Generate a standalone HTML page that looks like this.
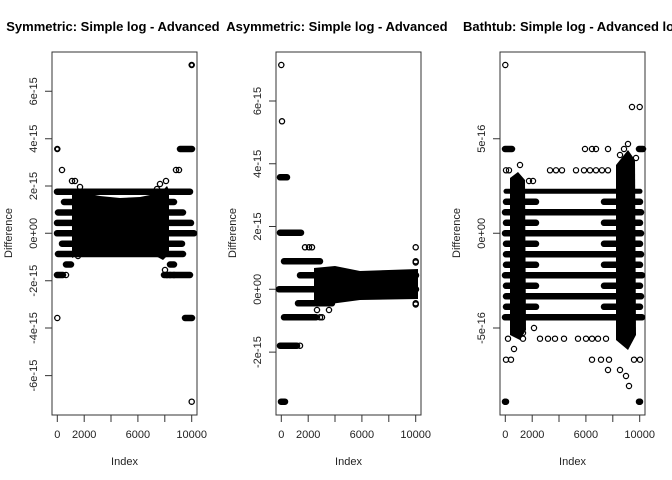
<!DOCTYPE html>
<html><head><meta charset="utf-8"><style>
html,body{margin:0;padding:0;background:#fff;}
svg{display:block;font-family:"Liberation Sans",sans-serif;}
</style></head><body>
<svg width="672" height="480" viewBox="0 0 672 480" xmlns="http://www.w3.org/2000/svg">
<defs>
<clipPath id="c1"><rect x="0" y="0" width="224" height="480"/></clipPath>
<clipPath id="c2"><rect x="224" y="0" width="224" height="480"/></clipPath>
<clipPath id="c3"><rect x="448" y="0" width="224" height="480"/></clipPath>
</defs>
<g font-weight="bold" font-size="13" text-anchor="middle">
<text x="124.5" y="31" clip-path="url(#c1)">Symmetric: Simple log - Advanced log</text>
<text x="348.5" y="31" clip-path="url(#c2)">Asymmetric: Simple log - Advanced log</text>
<text x="572.5" y="31" clip-path="url(#c3)">Bathtub: Simple log - Advanced log</text>
</g>
<g font-size="11" fill="#222" text-anchor="middle">
<text x="124.5" y="465">Index</text><text x="348.5" y="465">Index</text><text x="572.5" y="465">Index</text>
<text transform="translate(12,233) rotate(-90)">Difference</text>
<text transform="translate(236,233) rotate(-90)">Difference</text>
<text transform="translate(460,233) rotate(-90)">Difference</text>
</g>
<g fill="none" stroke="#333" stroke-width="1">
<rect x="52" y="52" width="145" height="363"/>
<rect x="276" y="52" width="145" height="363"/>
<rect x="500" y="52" width="145" height="363"/>
</g>
<g stroke="#333" stroke-width="1">
<path d="M57.3 415v7M84.2 415v7M111 415v7M137.9 415v7M164.8 415v7M191.7 415v7M57.3 415H191.7"/>
<path d="M281.3 415v7M308.2 415v7M335 415v7M361.9 415v7M388.8 415v7M415.7 415v7M281.3 415H415.7"/>
<path d="M505.3 415v7M532.2 415v7M559 415v7M585.9 415v7M612.8 415v7M639.7 415v7M505.3 415H639.7"/>
<path d="M52 91.3h-7M52 138.7h-7M52 186h-7M52 233.3h-7M52 280.7h-7M52 328h-7M52 375.6h-7M52 91.3V375.6"/>
<path d="M276 101h-7M276 163.8h-7M276 226.5h-7M276 289.3h-7M276 352.1h-7M276 101V352.1"/>
<path d="M500 138.7h-7M500 233.3h-7M500 328h-7M500 138.7V328"/>
</g>
<g font-size="11" fill="#222" text-anchor="middle">
<text x="57.3" y="438">0</text><text x="84.2" y="438">2000</text><text x="137.9" y="438">6000</text><text x="191.7" y="438">10000</text>
<text x="281.3" y="438">0</text><text x="308.2" y="438">2000</text><text x="361.9" y="438">6000</text><text x="415.7" y="438">10000</text>
<text x="505.3" y="438">0</text><text x="532.2" y="438">2000</text><text x="585.9" y="438">6000</text><text x="639.7" y="438">10000</text>
<text transform="translate(37,91.3) rotate(-90)">6e-15</text>
<text transform="translate(37,138.7) rotate(-90)">4e-15</text>
<text transform="translate(37,186) rotate(-90)">2e-15</text>
<text transform="translate(37,233.3) rotate(-90)">0e+00</text>
<text transform="translate(37,280.7) rotate(-90)">-2e-15</text>
<text transform="translate(37,328) rotate(-90)">-4e-15</text>
<text transform="translate(37,375.6) rotate(-90)">-6e-15</text>
<text transform="translate(261,101) rotate(-90)">6e-15</text>
<text transform="translate(261,163.8) rotate(-90)">4e-15</text>
<text transform="translate(261,226.5) rotate(-90)">2e-15</text>
<text transform="translate(261,289.3) rotate(-90)">0e+00</text>
<text transform="translate(261,352.1) rotate(-90)">-2e-15</text>
<text transform="translate(485,138.7) rotate(-90)">5e-16</text>
<text transform="translate(485,233.3) rotate(-90)">0e+00</text>
<text transform="translate(485,328) rotate(-90)">-5e-16</text>
</g>
<g stroke="#000" stroke-linecap="round" stroke-width="6.5" fill="none">
<path d="M57 233.3H194M57 222.9H191M58 212.5H183M64 202H174M57 191.7H190M62 243.7H182M58 254H183M57 275H62M164 275H190M66 264.5H71M170 264.5H174"/>
</g>
<polygon points="72,195 80,192 100,196 120,198 140,197 160,193 167,186 169,190 169,254 163,260 150,253 120,252 100,252 80,254 72,258" fill="#000"/>
<g stroke="#000" stroke-width="1.3" fill="none">
<circle cx="57.3" cy="149" r="2.6"/><circle cx="57.3" cy="149" r="2"/><circle cx="57.3" cy="318" r="2.6"/>
<circle cx="191.7" cy="65" r="2.6"/><circle cx="191.7" cy="65" r="2"/><circle cx="191.7" cy="401.7" r="2.6"/>
<circle cx="62" cy="170" r="2.6"/><circle cx="72" cy="181" r="2.6"/><circle cx="75" cy="181" r="2.6"/><circle cx="80" cy="187" r="2.6"/>
<circle cx="88" cy="195" r="2.6"/><circle cx="78" cy="256" r="2.6"/><circle cx="120" cy="249" r="2.6"/><circle cx="106" cy="251" r="2.6"/><circle cx="157" cy="189" r="2.6"/><circle cx="160" cy="184" r="2.6"/><circle cx="166" cy="181" r="2.6"/><circle cx="176" cy="170" r="2.6"/><circle cx="179" cy="170" r="2.6"/>
<circle cx="165" cy="270" r="2.6"/><circle cx="167" cy="275" r="2.6"/><circle cx="170" cy="275" r="2.6"/><circle cx="174" cy="275" r="2.6"/>
<circle cx="63" cy="275" r="2.6"/><circle cx="66" cy="275" r="2.6"/>
</g>
<g stroke="#000" stroke-linecap="round" stroke-width="6.5" fill="none">
<path d="M180 149H192M185 318H192"/>
</g>
<g stroke="#000" stroke-linecap="round" stroke-width="6.5" fill="none">
<path d="M279 289.3H416M300 275.3H416M298 303.3H332M284 261.3H320M284 317.3H316M280 232.7H301M280 345.7H296M280 177.3H287M281 401.7H285"/>
</g>
<polygon points="314,268 335,266 360,271 418,269 418,299 360,300 330,304 314,305" fill="#000"/>
<g stroke="#000" stroke-width="1.3" fill="none">
<circle cx="281.3" cy="65" r="2.6"/><circle cx="282" cy="121.3" r="2.6"/>
<circle cx="305" cy="247.3" r="2.6"/><circle cx="309" cy="247.3" r="2.6"/><circle cx="312" cy="247.3" r="2.6"/>
<circle cx="415.7" cy="247.3" r="2.6"/><circle cx="415.7" cy="261.3" r="2.6"/><circle cx="415.7" cy="262.5" r="2.6"/><circle cx="415.7" cy="303.3" r="2.6"/><circle cx="415.7" cy="304.5" r="2.6"/>
<circle cx="317" cy="310" r="2.6"/><circle cx="329" cy="310" r="2.6"/><circle cx="297" cy="345.7" r="2.6"/><circle cx="300" cy="345.7" r="2.6"/>
<circle cx="322" cy="317.3" r="2.6"/><circle cx="320" cy="317.3" r="2.6"/>
</g>
<g stroke="#000" stroke-linecap="round" stroke-width="6.5" fill="none">
<path d="M505 212.3H641M505 233.3H641M506 254.3H641M505 275.3H642M506 296.3H641M505 317.3H642"/>
<path d="M506 201.8H536M506 222.8H536M506 243.8H536M506 264.8H536M506 285.8H536M506 306.8H536"/>
<path d="M604 201.8H640M604 222.8H640M604 243.8H640M604 264.8H640M604 285.8H640M604 306.8H640"/>
<path d="M506 191.3H640" stroke-width="5"/>
<path d="M505 149H512M505 401.7H506M639 401.7H640M639 149H643"/>
</g>
<polygon points="510,178 518,172 525,180 526,330 520,340 510,335" fill="#000"/>
<polygon points="616,165 628,150 635,160 636,335 628,350 616,340" fill="#000"/>
<g stroke="#000" stroke-width="1.2" fill="none">
<circle cx="505.3" cy="65" r="2.6"/><circle cx="505.3" cy="401.7" r="2.6"/><circle cx="639.7" cy="401.7" r="2.6"/>
<circle cx="632" cy="107" r="2.6"/><circle cx="639.7" cy="107" r="2.6"/>
<circle cx="585" cy="149" r="2.6"/><circle cx="592" cy="149" r="2.6"/><circle cx="596" cy="149" r="2.6"/><circle cx="608" cy="149" r="2.6"/>
<circle cx="550" cy="170.3" r="2.6"/><circle cx="556" cy="170.3" r="2.6"/><circle cx="562" cy="170.3" r="2.6"/><circle cx="576" cy="170.3" r="2.6"/><circle cx="584" cy="170.3" r="2.6"/><circle cx="590" cy="170.3" r="2.6"/><circle cx="596" cy="170.3" r="2.6"/><circle cx="602" cy="170.3" r="2.6"/><circle cx="608" cy="170.3" r="2.6"/><circle cx="506" cy="170.3" r="2.6"/><circle cx="509" cy="170.3" r="2.6"/>
<circle cx="540" cy="338.7" r="2.6"/><circle cx="548" cy="338.7" r="2.6"/><circle cx="555" cy="338.7" r="2.6"/><circle cx="564" cy="338.7" r="2.6"/><circle cx="578" cy="338.7" r="2.6"/><circle cx="586" cy="338.7" r="2.6"/><circle cx="592" cy="338.7" r="2.6"/><circle cx="598" cy="338.7" r="2.6"/><circle cx="606" cy="338.7" r="2.6"/><circle cx="508" cy="338.7" r="2.6"/><circle cx="523" cy="338.7" r="2.6"/>
<circle cx="506" cy="359.7" r="2.6"/><circle cx="511" cy="359.7" r="2.6"/><circle cx="514" cy="349" r="2.6"/><circle cx="592" cy="359.7" r="2.6"/><circle cx="601" cy="359.7" r="2.6"/><circle cx="609" cy="359.7" r="2.6"/><circle cx="620" cy="370" r="2.6"/><circle cx="626" cy="376" r="2.6"/><circle cx="634" cy="359.7" r="2.6"/><circle cx="640" cy="359.7" r="2.6"/><circle cx="608" cy="370" r="2.6"/><circle cx="629" cy="386" r="2.6"/>
<circle cx="520" cy="165" r="2.6"/><circle cx="529" cy="181" r="2.6"/><circle cx="533" cy="181" r="2.6"/><circle cx="534" cy="328" r="2.6"/><circle cx="523" cy="333" r="2.6"/>
<circle cx="620" cy="155" r="2.6"/><circle cx="628" cy="144" r="2.6"/><circle cx="636" cy="158" r="2.6"/><circle cx="624" cy="149" r="2.6"/>
</g>
</svg>
</body></html>
